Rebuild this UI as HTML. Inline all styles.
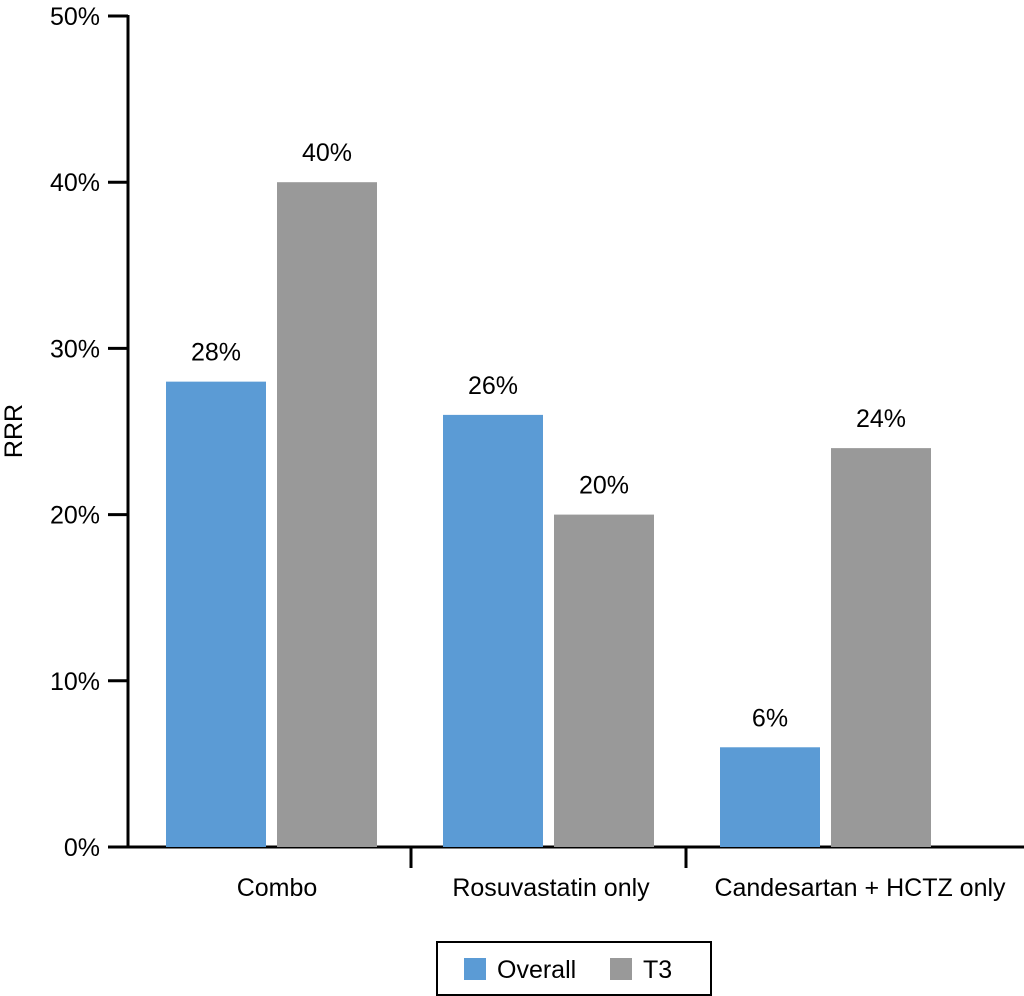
<!DOCTYPE html>
<html><head><meta charset="utf-8"><style>
body{margin:0;background:#fff;}
svg{display:block;font-family:"Liberation Sans",Arial,sans-serif;}
</style></head><body>
<svg id="chart" width="1024" height="996" viewBox="0 0 1024 996">
<g id="axes"></g><g id="bars"></g>
<text x="22" y="431" font-size="25" text-anchor="middle" transform="rotate(-90 22 431)">RRR</text>
<g>
<rect x="437" y="942" width="274" height="53" fill="#fff" stroke="#000" stroke-width="2"/>
<rect x="464" y="958" width="22" height="22" fill="#5b9bd5"/>
<text x="497" y="978" font-size="25">Overall</text>
<rect x="610" y="958" width="22" height="22" fill="#999999"/>
<text x="643" y="978" font-size="25">T3</text>
</g>
</svg>
<script>
const categories=["Combo","Rosuvastatin only","Candesartan + HCTZ only"];
const overall=[28,26,6];
const t3=[40,20,24];
const yTicks=[0,10,20,30,40,50];
const labelCenters=[277,551,860];
const NS="http://www.w3.org/2000/svg";
const y=v=>847-v*16.62;
const gx=i=>166+i*277;
function mk(t,a,parent){const e=document.createElementNS(NS,t);for(const k in a)e.setAttribute(k,a[k]);parent.appendChild(e);return e;}
const ax=document.getElementById('axes'),bg=document.getElementById('bars');
const yl=mk('line',{x1:128,y1:15,x2:128,y2:848,stroke:'#000','stroke-width':3},ax);


const xl=mk('line',{x1:127,y1:847,x2:1024,y2:847,stroke:'#000','stroke-width':3},ax);


yTicks.forEach(v=>{
 const l=mk('line',{x1:108,y1:y(v),x2:128,y2:y(v),stroke:'#000','stroke-width':3},ax);
 
 
 const t=mk('text',{x:100,y:y(v)+9,'font-size':25,'text-anchor':'end'},ax);
 t.textContent=v+'%';
 
 
});
[411,686].forEach(x=>{
 const l=mk('line',{x1:x,y1:847,x2:x,y2:868,stroke:'#000','stroke-width':3},ax);
 
 
});
categories.forEach((c,i)=>{
 const t=mk('text',{x:labelCenters[i],y:896,'font-size':25,'text-anchor':'middle'},ax);
 t.textContent=c;
 
 
 [[overall,'#5b9bd5',0],[t3,'#999999',1]].forEach(([arr,col,s])=>{
  const x=gx(i)+s*111,v=arr[i];
  const r=mk('rect',{x:x,y:y(v),width:100,height:847-y(v),fill:col},bg);
  
  
  const lt=mk('text',{x:x+50,y:y(v)-21,'font-size':25,'text-anchor':'middle'},bg);
  lt.textContent=v+'%';
  
  
 });
});
</script>
</body></html>
